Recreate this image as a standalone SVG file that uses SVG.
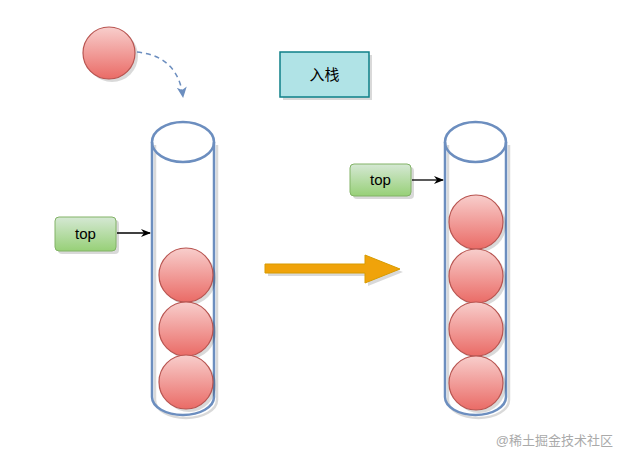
<svg xmlns="http://www.w3.org/2000/svg" width="627" height="463" viewBox="0 0 627 463">
<style>
.ball{fill:url(#rg);stroke:#b85450;stroke-width:1.2}
.tube{fill:none;stroke:#6c8ebf;stroke-width:2.5}
.tag{fill:url(#gg);stroke:#82b366;stroke-width:1}
.t{font-family:"Liberation Sans",Arial,sans-serif;font-size:15px;fill:#000;text-anchor:middle}
.sh{fill:#000;opacity:0.15}
</style>
<defs>
<linearGradient id="rg" x1="0" y1="0" x2="0" y2="1"><stop offset="0" stop-color="#f8cecc"/><stop offset="1" stop-color="#ea6b66"/></linearGradient>
<linearGradient id="gg" x1="0" y1="0" x2="0" y2="1"><stop offset="0" stop-color="#d5e8d4"/><stop offset="1" stop-color="#97d077"/></linearGradient>
<marker id="ah" markerWidth="10" markerHeight="10" refX="9" refY="5" orient="auto" markerUnits="userSpaceOnUse"><path d="M0,1 L10,5 L0,9 L3,5Z" fill="#000"/></marker>
<marker id="bh" markerWidth="12" markerHeight="12" refX="10" refY="6" orient="auto" markerUnits="userSpaceOnUse"><path d="M0,1 L11,6 L0,11 L3,6Z" fill="#6c8ebf"/></marker>
</defs>
<g id="ball-in"><circle cx="112" cy="56" r="26" class="sh"/><circle cx="109" cy="53" r="26" class="ball"/></g>
<g id="label"><rect x="283" y="55" width="89" height="45" fill="#000" opacity="0.15"/><rect x="280" y="52" width="89" height="45" fill="#b0e3e6" stroke="#0e8088" stroke-width="1.5"/><text x="324.5" y="80" class="t" style="font-family:'Liberation Sans','Noto Sans CJK SC',sans-serif">入栈</text></g>
<g id="tube-left">
<path d="M155,145 V400 a31,18 0 0 0 62,0 V145" fill="none" stroke="#000" stroke-opacity="0.15" stroke-width="2.5"/>
<path d="M152,142 V397 a31,18 0 0 0 62,0 V142" class="tube"/>
<ellipse cx="183" cy="142" rx="31" ry="20" fill="#fff" class="tube"/>
</g>
<g id="tube-right">
<path d="M448,145 V400 a30.5,18 0 0 0 61,0 V145" fill="none" stroke="#000" stroke-opacity="0.15" stroke-width="2.5"/>
<path d="M445,142 V397 a30.5,18 0 0 0 61,0 V142" class="tube"/>
<ellipse cx="475.5" cy="142" rx="30.5" ry="20" fill="#fff" class="tube"/>
</g>
<g id="balls-left">
<circle cx="189" cy="278" r="27" class="sh"/><circle cx="186" cy="275" r="27" class="ball"/>
<circle cx="189" cy="332" r="27" class="sh"/><circle cx="186" cy="329" r="27" class="ball"/>
<circle cx="189" cy="385" r="27" class="sh"/><circle cx="186" cy="382" r="27" class="ball"/>
</g>
<g id="balls-right">
<circle cx="479" cy="225" r="27" class="sh"/><circle cx="476" cy="222" r="27" class="ball"/>
<circle cx="479" cy="279" r="27" class="sh"/><circle cx="476" cy="276" r="27" class="ball"/>
<circle cx="479" cy="332" r="27" class="sh"/><circle cx="476" cy="329" r="27" class="ball"/>
<circle cx="479" cy="386" r="27" class="sh"/><circle cx="476" cy="383" r="27" class="ball"/>
</g>
<g id="top-left"><rect x="58" y="220" width="61" height="34" rx="4" class="sh"/><rect x="55" y="217" width="61" height="34" rx="4" class="tag"/><text x="85.5" y="239" class="t">top</text></g>
<g id="top-right"><rect x="353" y="167" width="61" height="32" rx="4" class="sh"/><rect x="350" y="164" width="61" height="32" rx="4" class="tag"/><text x="380.5" y="185" class="t">top</text></g>
<g id="big-arrow">
<path d="M268,267 H368 V258 L403,272 L368,286 V276 H268Z" fill="#000" opacity="0.15"/>
<path d="M265,264 H365 V255 L400,269 L365,283 V273 H265Z" fill="#f0a30a" stroke="#d79b00" stroke-width="1"/>
</g>
<g id="connectors">
<path d="M137,52 Q178,56 183,97" fill="none" stroke="#6c8ebf" stroke-width="1.5" stroke-dasharray="5,4" marker-end="url(#bh)"/>
<line x1="117" y1="233" x2="150" y2="233" stroke="#000" stroke-width="1.3" marker-end="url(#ah)"/>
<line x1="412" y1="180" x2="443" y2="180" stroke="#000" stroke-width="1.3" marker-end="url(#ah)"/>
</g>
<text x="613" y="445" style="font-family:'Liberation Sans','Noto Sans CJK SC',sans-serif;font-size:13px;fill:#aaa;text-anchor:end">@稀土掘金技术社区</text>
</svg>
